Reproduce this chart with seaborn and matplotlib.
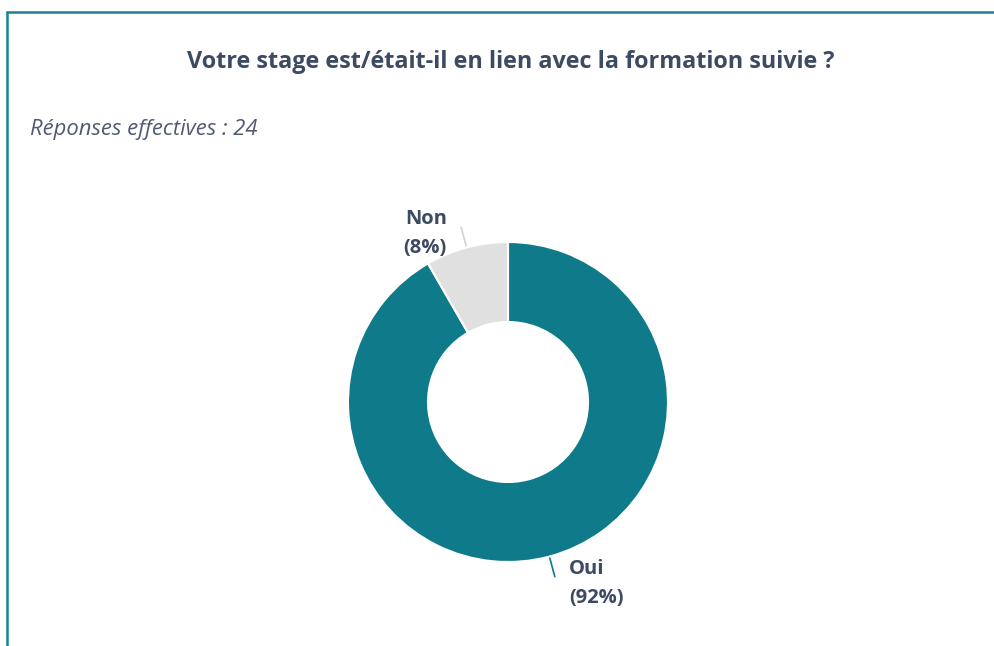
import numpy as np
import matplotlib
matplotlib.use("Agg")
import matplotlib.pyplot as plt
import seaborn as sns
from matplotlib.lines import Line2D

# ==============================
# Data
# ==============================
categories = ["Oui", "Non"]
counts = [22, 2]
percent_labels = ["92%", "8%"]
colors = ["#0f7b8a", "#e0e0e0"]
title = "Votre stage est/était-il en lien avec la formation suivie ?"
subtitle = "Réponses effectives : 24"

# ==============================
# Style
# ==============================
sns.set_theme(style="white")
plt.rcParams["font.family"] = ["Open Sans", "DejaVu Sans"]
text_color = "#3d4a63"

fig = plt.figure(figsize=(9.95, 6.46), dpi=100)

# frame around the card (cut at right and bottom)
fig.add_artist(Line2D([7 / 995, 7 / 995], [0, 1 - 12 / 646], color="#1a8293", lw=1.8))
fig.add_artist(Line2D([7 / 995, 1], [1 - 12 / 646, 1 - 12 / 646], color="#1a8293", lw=1.8))

fig.text(511 / 995, 1 - 62 / 646, title, ha="center", va="center",
         fontsize=16.8, fontweight="bold", color=text_color)
fig.text(30 / 995, 1 - 130 / 646, subtitle, ha="left", va="center",
         fontsize=15.8, style="italic", color="#4f5b72")

# ==============================
# Donut
# ==============================
ax = fig.add_axes([348 / 995, 84 / 646, 320 / 995, 320 / 646])
wedges, _ = ax.pie(counts, colors=colors, startangle=90, counterclock=False,
                   radius=1, wedgeprops=dict(width=0.5, edgecolor="white", linewidth=1.5))
ax.set_xlim(-1, 1)
ax.set_ylim(-1, 1)
ax.set_aspect("equal")
ax.axis("off")

# labels with small leader lines
for w, cat, pct, col in zip(wedges, categories, percent_labels, colors):
    ang = np.deg2rad((w.theta1 + w.theta2) / 2)
    x0, y0 = 1.01 * np.cos(ang), 1.01 * np.sin(ang)
    x1, y1 = 1.13 * np.cos(ang), 1.13 * np.sin(ang)
    line_col = col if col != "#e0e0e0" else "#d0d0d0"
    ax.plot([x0, x1], [y0, y1], color=line_col, lw=1.2, clip_on=False)
    side = 1 if np.cos(ang) >= 0 else -1
    ax.text(x1 + side * 0.09, y1 - 0.04, f"{cat}\n({pct})",
            ha="left" if side > 0 else "right", va="center",
            fontsize=14.5, fontweight="bold", color=text_color,
            linespacing=1.6, clip_on=False)

fig.savefig("out.png", dpi=100)
